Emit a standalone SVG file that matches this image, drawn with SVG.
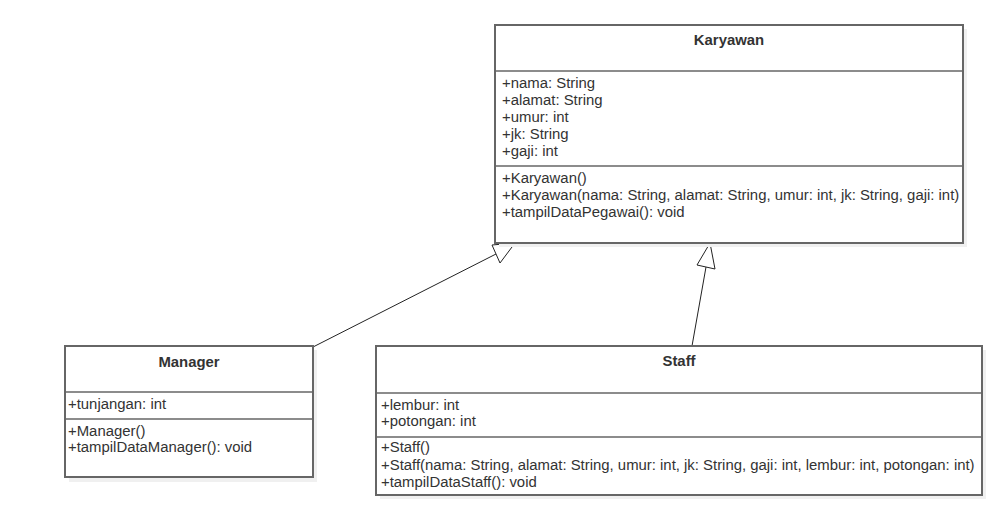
<svg xmlns="http://www.w3.org/2000/svg" width="1002" height="517" viewBox="0 0 1002 517">
<style>
.box{fill:#fff;stroke:#666;stroke-width:2}
.shadow{fill:#f0f0f0}
.sep{stroke:#666;stroke-width:1.5}
.t{font-family:"Liberation Sans",Arial,sans-serif;font-size:14.9px;fill:#333}
.title{font-family:"Liberation Sans",Arial,sans-serif;font-size:14.9px;font-weight:bold;fill:#333;text-anchor:middle}
.conn{stroke:#222;stroke-width:1;fill:none}
.head{fill:#fff;stroke:#222;stroke-width:1}
</style>
<rect width="1002" height="517" fill="#fff"/>
<g id="connectors">
<line class="conn" x1="313" y1="347" x2="496" y2="254"/>
<polygon class="head" points="515,243 492,245 500,263"/>
<line class="conn" x1="692" y1="346" x2="706" y2="267"/>
<polygon class="head" points="710,243 697,265 715,269"/>
<path class="conn" d="M948,497 L974,494"/>
<circle cx="597" cy="496" r="1.2" fill="#222"/>
</g>
<g id="Karyawan">
<rect class="shadow" x="499" y="29" width="468" height="218"/>
<rect class="box" x="495" y="25" width="468" height="218"/>
<line class="sep" x1="495" y1="71" x2="963" y2="71"/>
<line class="sep" x1="495" y1="166" x2="963" y2="166"/>
<text class="title" x="729" y="45">Karyawan</text>
<text class="t" x="502" y="88">+nama: String</text>
<text class="t" x="502" y="105">+alamat: String</text>
<text class="t" x="502" y="122">+umur: int</text>
<text class="t" x="502" y="139">+jk: String</text>
<text class="t" x="502" y="156">+gaji: int</text>
<text class="t" x="502" y="183">+Karyawan()</text>
<text class="t" x="502" y="200">+Karyawan(nama: String, alamat: String, umur: int, jk: String, gaji: int)</text>
<text class="t" x="502" y="217">+tampilDataPegawai(): void</text>
</g>
<g id="Manager">
<rect class="shadow" x="69" y="350" width="248" height="132"/>
<rect class="box" x="65" y="346" width="248" height="131"/>
<line class="sep" x1="65" y1="392" x2="313" y2="392"/>
<line class="sep" x1="65" y1="419" x2="313" y2="419"/>
<text class="title" x="189" y="367">Manager</text>
<text class="t" x="68" y="409">+tunjangan: int</text>
<text class="t" x="68" y="436">+Manager()</text>
<text class="t" x="68" y="452">+tampilDataManager(): void</text>
</g>
<g id="Staff">
<rect class="shadow" x="380" y="350" width="606" height="149"/>
<rect class="box" x="376" y="346" width="606" height="149"/>
<line class="sep" x1="376" y1="393" x2="982" y2="393"/>
<line class="sep" x1="376" y1="437" x2="982" y2="437"/>
<text class="title" x="679" y="366">Staff</text>
<text class="t" x="381" y="410">+lembur: int</text>
<text class="t" x="381" y="426">+potongan: int</text>
<text class="t" x="381" y="452">+Staff()</text>
<text class="t" x="381" y="470">+Staff(nama: String, alamat: String, umur: int, jk: String, gaji: int, lembur: int, potongan: int)</text>
<text class="t" x="381" y="487">+tampilDataStaff(): void</text>
</g>
</svg>
